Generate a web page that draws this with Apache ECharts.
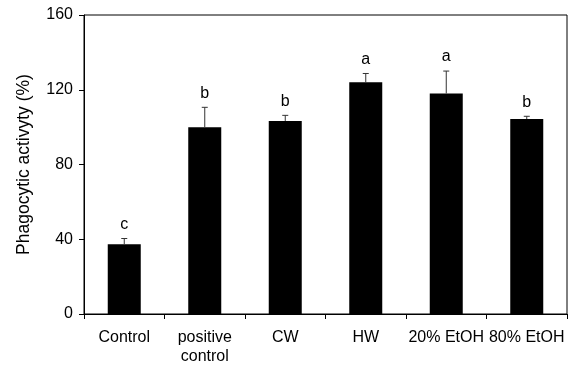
<!DOCTYPE html>
<html><head><meta charset="utf-8">
<script src="https://cdn.jsdelivr.net/npm/echarts@6/dist/echarts.min.js"></script>
<style>html,body{margin:0;padding:0;background:#fff}#c{width:571px;height:367px}</style>
</head><body><div id="c"></div>
<script>
var categories = ['Control', 'positive\ncontrol', 'CW', 'HW', '20% EtOH', '80% EtOH'];
var values = [37.3, 100, 103.3, 124, 118, 104.3];
var errors = [3.1, 10.6, 3.0, 4.7, 12.0, 1.5];
var letters = ['c', 'b', 'b', 'a', 'a', 'b'];
var yTicks = [0, 40, 80, 120, 160];

var FONT = 'Liberation Sans, Arial, sans-serif';
var chart = echarts.init(document.getElementById('c'), null, {renderer: 'canvas'});
var errData = values.map(function (v, i) { return [i, v, v + errors[i], letters[i]]; });
chart.setOption({
  animation: false,
  grid: {left: 84, right: 4, top: 15, bottom: 53, show: true, borderColor: '#000', borderWidth: 1, backgroundColor: 'transparent'},
  xAxis: {
    type: 'category', data: categories,
    axisLine: {lineStyle: {color: '#000', width: 1}},
    axisTick: {show: true, inside: false, length: 5, alignWithLabel: false, lineStyle: {color: '#000'}},
    axisLabel: {color: '#000', fontFamily: FONT, fontSize: 16, margin: 14, lineHeight: 19, interval: 0}
  },
  yAxis: {
    type: 'value', min: yTicks[0], max: yTicks[yTicks.length - 1], interval: 40,
    name: 'Phagocytic activyty (%)', nameLocation: 'middle', nameGap: 51, nameRotate: 90,
    nameTextStyle: {color: '#000', fontFamily: FONT, fontSize: 17.5},
    axisLine: {show: true, lineStyle: {color: '#000', width: 1}},
    axisTick: {show: true, inside: false, length: 5, lineStyle: {color: '#000'}},
    axisLabel: {color: '#000', fontFamily: FONT, fontSize: 16, margin: 11},
    splitLine: {show: false}
  },
  series: [{
    type: 'bar', data: values, barWidth: 33,
    itemStyle: {color: '#000'}
  }, {
    type: 'custom', data: errData, z: 5,
    renderItem: function (params, api) {
      var i = api.value(0);
      var base = api.coord([i, api.value(1)]);
      var top = api.coord([i, api.value(2)]);
      var x = base[0];
      return {
        type: 'group',
        children: [
          {type: 'line', shape: {x1: x, y1: base[1], x2: x, y2: top[1]}, style: {stroke: '#333', lineWidth: 1}},
          {type: 'line', shape: {x1: x - 3, y1: top[1], x2: x + 3, y2: top[1]}, style: {stroke: '#333', lineWidth: 1}},
          {type: 'text', x: x, y: top[1] - 6, style: {text: api.value(3), fill: '#000', font: '16px ' + FONT, textAlign: 'center', textVerticalAlign: 'bottom'}}
        ]
      };
    }
  }]
});
</script></body></html>
